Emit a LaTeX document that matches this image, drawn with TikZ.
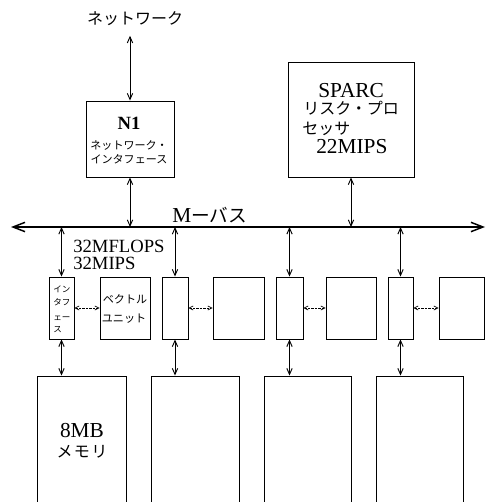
\documentclass[tikz,border=0pt]{standalone}
\usepackage{fontspec}
\setmainfont{Liberation Serif}
\newfontfamily\jp{Noto Sans CJK JP}
\usetikzlibrary{arrows.meta,fit}
\begin{document}
\begin{tikzpicture}[x=0.75pt,y=-0.75pt,
  box/.style={draw,line width=0.7pt,inner sep=0pt},
  tx/.style={inner sep=0pt,anchor=base},
  txw/.style={inner sep=0pt,anchor=base west},
  link/.style={line width=0.7pt,{Straight Barb[length=4.5pt,width=4pt]}-{Straight Barb[length=4.5pt,width=4pt]}},
  side/.style={line width=0.5pt,dash pattern=on 1.6pt off 1pt,{Straight Barb[length=3pt,width=3pt]}-{Straight Barb[length=3pt,width=3pt]}},
  busline/.style={line width=1.1pt,{Straight Barb[length=9pt,width=7pt]}-{Straight Barb[length=9pt,width=7pt]}},
  jpL/.style={font=\jp\fontsize{12}{14}\selectfont},
  jpS/.style={font=\jp\fontsize{8.3}{10}\selectfont},
  jpXS/.style={font=\jp\fontsize{6.4}{8}\selectfont},
  lat/.style={font=\fontsize{16}{18}\selectfont},
  latS/.style={font=\fontsize{14}{16}\selectfont}
]
\useasboundingbox (0,0) rectangle (486,502);

% top label
\node[tx,jpL] (net) at (135,25) {ネットワーク};

% N1 box
\node[box,fit={(86,101) (174,177)}] (n1) {};
\node[tx,font=\bfseries\fontsize{14}{16}\selectfont] (n1a) at (129,130) {N1};
\node[tx,jpS] (n1b) at (129,150) {ネットワーク・};
\node[tx,jpS] (n1c) at (129,164) {インタフェース};

% SPARC box
\node[box,fit={(288,62) (414,177)}] (sparc) {};
\node[txw,lat] (sp1) at (318,98) {SPARC};
\node[txw,jpL] (sp2) at (303,115) {リスク・プロ};
\node[txw,jpL] (sp3) at (302,135) {セッサ};
\node[txw,lat] (sp4) at (316,154) {22MIPS};

% bus
\coordinate (bl) at (11,227);
\coordinate (br) at (485,227);
\draw[busline] (bl) -- (br);
\node[txw] (buslbl) at (172,222) {{\fontsize{16}{18}\selectfont M}{\jp\fontsize{14}{16}\selectfont ーバス}};

% performance label
\node[txw,latS] (perf1) at (73,252) {32MFLOPS};
\node[txw,latS] (perf2) at (73,269) {32MIPS};

% second row
\node[box,fit={(49,277) (74,339)}] (if1) {};
\node[txw,jpXS] (if1a) at (53,292) {イン};
\node[txw,jpXS] (if1b) at (53,305) {タフ};
\node[txw,jpXS] (if1c) at (53,320) {ェー};
\node[txw,jpXS] (if1d) at (53,332) {ス};

\node[box,fit={(100,277) (150,339)}] (vec) {};
\node[tx,jpS] (veca) at (125,303) {ベクトル};
\node[tx,jpS] (vecb) at (124,322) {ユニット};

\node[box,fit={(162,277) (188,339)}] (s2) {};
\node[box,fit={(213,277) (264,339)}] (l2) {};
\node[box,fit={(276,277) (303,339)}] (s3) {};
\node[box,fit={(326,277) (376,339)}] (l3) {};
\node[box,fit={(388,277) (413,339)}] (s4) {};
\node[box,fit={(439,277) (484,339)}] (l4) {};

% memories
\node[box,fit={(37,376) (126,505)}] (m1) {};
\node[tx,lat] (m1a) at (82,437) {8MB};
\node[tx,font=\jp\fontsize{12}{14}\selectfont] (m1b) at (82,457) {メ\hspace{1pt}モ\hspace{1pt}リ};
\node[box,fit={(151,376) (239,505)}] (m2) {};
\node[box,fit={(264,376) (351,505)}] (m3) {};
\node[box,fit={(376,376) (463,505)}] (m4) {};

% connectors
\draw[link,shorten <=7pt] (n1.north |- net.south) -- (n1.north);
\draw[link] (n1.south) -- (n1.south |- bl);
\draw[link] (sparc.south) -- (sparc.south |- bl);

\foreach \s/\m in {if1/m1,s2/m2,s3/m3,s4/m4}{
  \draw[link] (\s.north |- bl) -- (\s.north);
  \draw[link] (\s.south) -- (\s.south |- \m.north);
}

\draw[side] (if1.east) -- (vec.west);
\draw[side] (s2.east) -- (l2.west);
\draw[side] (s3.east) -- (l3.west);
\draw[side] (s4.east) -- (l4.west);
\end{tikzpicture}
\end{document}
